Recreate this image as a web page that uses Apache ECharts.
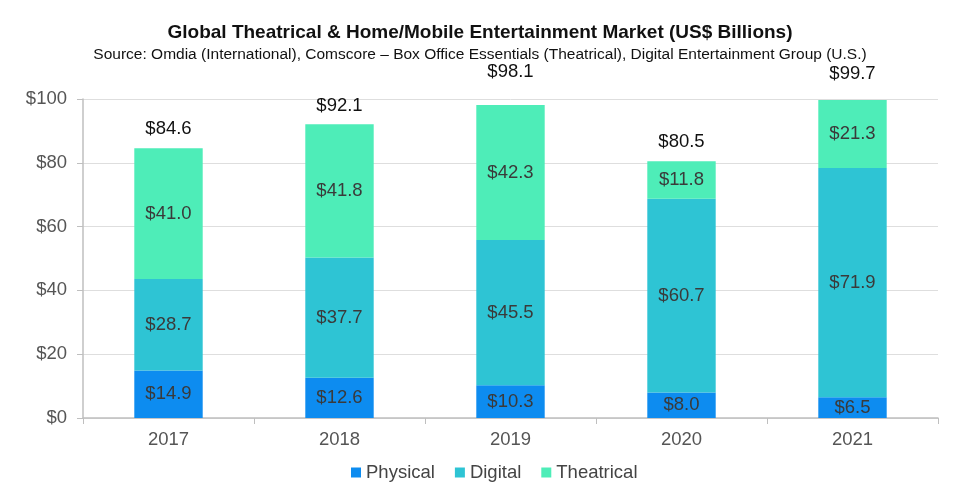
<!DOCTYPE html>
<html>
<head>
<meta charset="utf-8">
<script src="https://cdn.jsdelivr.net/npm/echarts@6/dist/echarts.min.js"></script>
<style>
  html, body { margin: 0; padding: 0; background: #fff; }
  #chart { width: 960px; height: 502px; }
</style>
</head>
<body>
<div id="chart"></div>
<script>
// data
var years = ['2017', '2018', '2019', '2020', '2021'];
var physical = [14.9, 12.6, 10.3, 8.0, 6.5];
var digital = [28.7, 37.7, 45.5, 60.7, 71.9];
var theatrical = [41.0, 41.8, 42.3, 11.8, 21.3];
var totals = [84.6, 92.1, 98.1, 80.5, 99.7];

var FONT = 'Liberation Sans, Arial, sans-serif';
var money = function (v) { return '$' + Number(v).toFixed(1); };

// total labels sit a bit higher on some bars in the original
var totalLift = [10, 9, 24, 10, 17];

var chart = echarts.init(document.getElementById('chart'));

var innerLabel = {
    show: true,
    position: 'inside',
    color: '#3a3a3a',
    fontSize: 18.5,
    fontFamily: FONT,
    formatter: function (p) { return money(p.value); }
};

var option = {
    animation: false,
    title: {
        text: 'Global Theatrical & Home/Mobile Entertainment Market (US$ Billions)',
        subtext: 'Source: Omdia (International), Comscore – Box Office Essentials (Theatrical), Digital Entertainment Group (U.S.)',
        left: 'center',
        top: 18,
        itemGap: 5,
        textStyle: { fontFamily: FONT, fontSize: 19, fontWeight: 'bold', color: '#111' },
        subtextStyle: { fontFamily: FONT, fontSize: 15.5, color: '#111' }
    },
    legend: {
        data: ['Physical', 'Digital', 'Theatrical'],
        left: 346,
        top: 458,
        icon: 'rect',
        itemWidth: 10,
        itemHeight: 10,
        itemGap: 20,
        itemTextGap: 5,
        textStyle: { fontFamily: FONT, fontSize: 18.5, color: '#444' }
    },
    grid: { left: 83, right: 22, top: 99, bottom: 84, containLabel: false },
    xAxis: {
        type: 'category',
        data: years,
        axisLine: { lineStyle: { color: '#bfbfbf', width: 1.5 } },
        axisTick: { show: true, length: 6, lineStyle: { color: '#bfbfbf' } },
        axisLabel: { fontFamily: FONT, fontSize: 18.5, color: '#555', margin: 12 }
    },
    yAxis: {
        type: 'value',
        min: 0,
        max: 100,
        interval: 20,
        axisLine: { show: true, lineStyle: { color: '#bfbfbf', width: 1.5 } },
        axisTick: { show: true, length: 6, lineStyle: { color: '#bfbfbf' } },
        splitLine: { lineStyle: { color: '#dedede' } },
        axisLabel: {
            fontFamily: FONT, fontSize: 18.5, color: '#555', margin: 16,
            formatter: function (v) { return '$' + v; }
        }
    },
    series: [
        {
            name: 'Physical', type: 'bar', stack: 'total', barWidth: '40%',
            itemStyle: { color: '#0d8cf0' },
            label: innerLabel,
            data: physical
        },
        {
            name: 'Digital', type: 'bar', stack: 'total',
            itemStyle: { color: '#2ec4d4' },
            label: innerLabel,
            data: digital
        },
        {
            name: 'Theatrical', type: 'bar', stack: 'total',
            itemStyle: { color: '#4eedb8' },
            label: innerLabel,
            data: theatrical
        },
        {
            // invisible carrier for the totals above each bar
            name: 'Total', type: 'bar', stack: 'total',
            itemStyle: { color: 'transparent' },
            silent: true,
            data: totals.map(function (t, i) {
                return {
                    value: 0.0001,
                    label: {
                        show: true,
                        position: 'top',
                        distance: totalLift[i],
                        color: '#111',
                        fontSize: 18.5,
                        fontFamily: FONT,
                        formatter: money(t)
                    }
                };
            })
        }
    ]
};

chart.setOption(option);
</script>
</body>
</html>
